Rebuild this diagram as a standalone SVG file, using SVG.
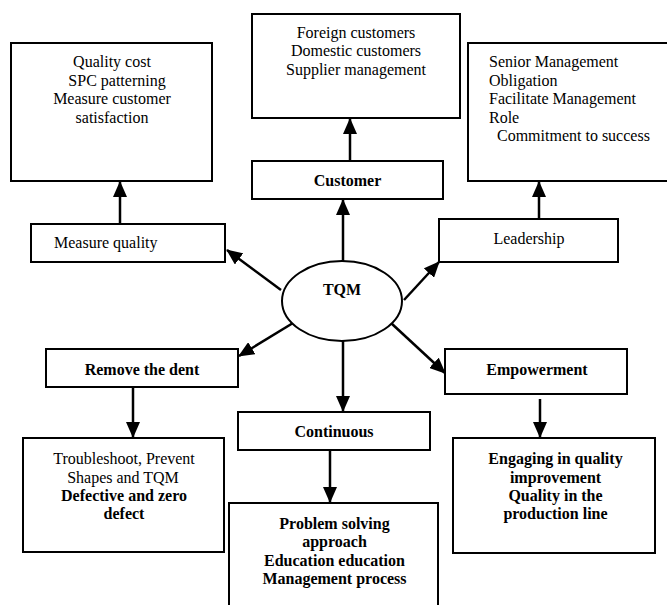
<svg xmlns="http://www.w3.org/2000/svg" width="667" height="605" viewBox="0 0 667 605">
<defs>
<style>
.box{fill:#fff;stroke:#000;stroke-width:2}
text{font-family:"Liberation Serif","Times New Roman",serif;font-size:16px;fill:#000}
.c{text-anchor:middle}
.b{font-weight:bold}
.con line{stroke:#000;stroke-width:2.5;marker-end:url(#ah)}
</style>
<marker id="ah" markerUnits="userSpaceOnUse" markerWidth="16" markerHeight="14" refX="15" refY="7" orient="auto">
<path d="M0,0 L16,7 L0,14 z" fill="#000"/>
</marker>
</defs>
<rect width="667" height="605" fill="#fff"/>
<g id="connectors" class="con">
<line x1="120" y1="224" x2="120" y2="182"/>
<line x1="350" y1="161" x2="350" y2="119"/>
<line x1="539" y1="219" x2="539" y2="182"/>
<line x1="343" y1="261" x2="343" y2="200"/>
<line x1="281" y1="290" x2="227" y2="250"/>
<line x1="404" y1="300" x2="439" y2="262"/>
<line x1="293" y1="323" x2="239" y2="356"/>
<line x1="391" y1="323" x2="445" y2="373"/>
<line x1="343" y1="341" x2="343" y2="411"/>
<line x1="133" y1="387" x2="133" y2="437"/>
<line x1="330" y1="450" x2="330" y2="502"/>
<line x1="540" y1="399" x2="540" y2="437"/>
</g>
<g id="n_quality_details">
<rect class="box" x="11" y="43" width="201" height="138"/>
<text class="c" x="112" y="67">Quality cost</text>
<text class="c" x="117" y="85.5">SPC patterning</text>
<text class="c" x="112" y="104">Measure customer</text>
<text class="c" x="112" y="122.5">satisfaction</text>
</g>
<g id="n_customer_details">
<rect class="box" x="252" y="14" width="208" height="104"/>
<text class="c" x="356" y="37.5">Foreign customers</text>
<text class="c" x="356" y="56">Domestic customers</text>
<text class="c" x="356" y="74.5">Supplier management</text>
</g>
<g id="n_leadership_details">
<rect class="box" x="468" y="43" width="204" height="138"/>
<text x="489" y="67">Senior Management</text>
<text x="489" y="85.5">Obligation</text>
<text x="489" y="104">Facilitate Management</text>
<text x="489" y="122.5">Role</text>
<text x="497" y="141">Commitment to success</text>
</g>
<g id="n_customer">
<rect class="box" x="252" y="161" width="191" height="38"/>
<text class="c b" x="347.5" y="186">Customer</text>
</g>
<g id="n_measure">
<rect class="box" x="31" y="224" width="194" height="38"/>
<text x="54" y="248">Measure quality</text>
</g>
<g id="n_leadership">
<rect class="box" x="439" y="219" width="179" height="43"/>
<text class="c" x="529" y="244">Leadership</text>
</g>
<g id="n_tqm">
<ellipse cx="342" cy="301" rx="60" ry="40" fill="#fff" stroke="#000" stroke-width="2"/>
<text class="c b" x="342" y="295">TQM</text>
</g>
<g id="n_remove">
<rect class="box" x="46" y="349" width="192" height="38"/>
<text class="c b" x="142" y="375">Remove the dent</text>
</g>
<g id="n_empowerment">
<rect class="box" x="445" y="349" width="182" height="45"/>
<text class="c b" x="537" y="375">Empowerment</text>
</g>
<g id="n_continuous">
<rect class="box" x="238" y="412" width="192" height="38"/>
<text class="c b" x="334" y="437">Continuous</text>
</g>
<g id="n_troubleshoot">
<rect class="box" x="23" y="438" width="201" height="114"/>
<text class="c" x="124" y="464">Troubleshoot, Prevent</text>
<text class="c" x="123" y="482.5">Shapes and TQM</text>
<text class="c b" x="124" y="501">Defective and zero</text>
<text class="c b" x="124" y="519">defect</text>
</g>
<g id="n_problem">
<rect class="box" x="229" y="503" width="209" height="110"/>
<text class="c b" x="334.5" y="528.5">Problem solving</text>
<text class="c b" x="334.5" y="547">approach</text>
<text class="c b" x="334.5" y="565.5">Education education</text>
<text class="c b" x="334.5" y="584">Management process</text>
</g>
<g id="n_engaging">
<rect class="box" x="453" y="438" width="202" height="115"/>
<text class="c b" x="555.5" y="464">Engaging in quality</text>
<text class="c b" x="555.5" y="482.5">improvement</text>
<text class="c b" x="555.5" y="501">Quality in the</text>
<text class="c b" x="555.5" y="519">production line</text>
</g>
</svg>
